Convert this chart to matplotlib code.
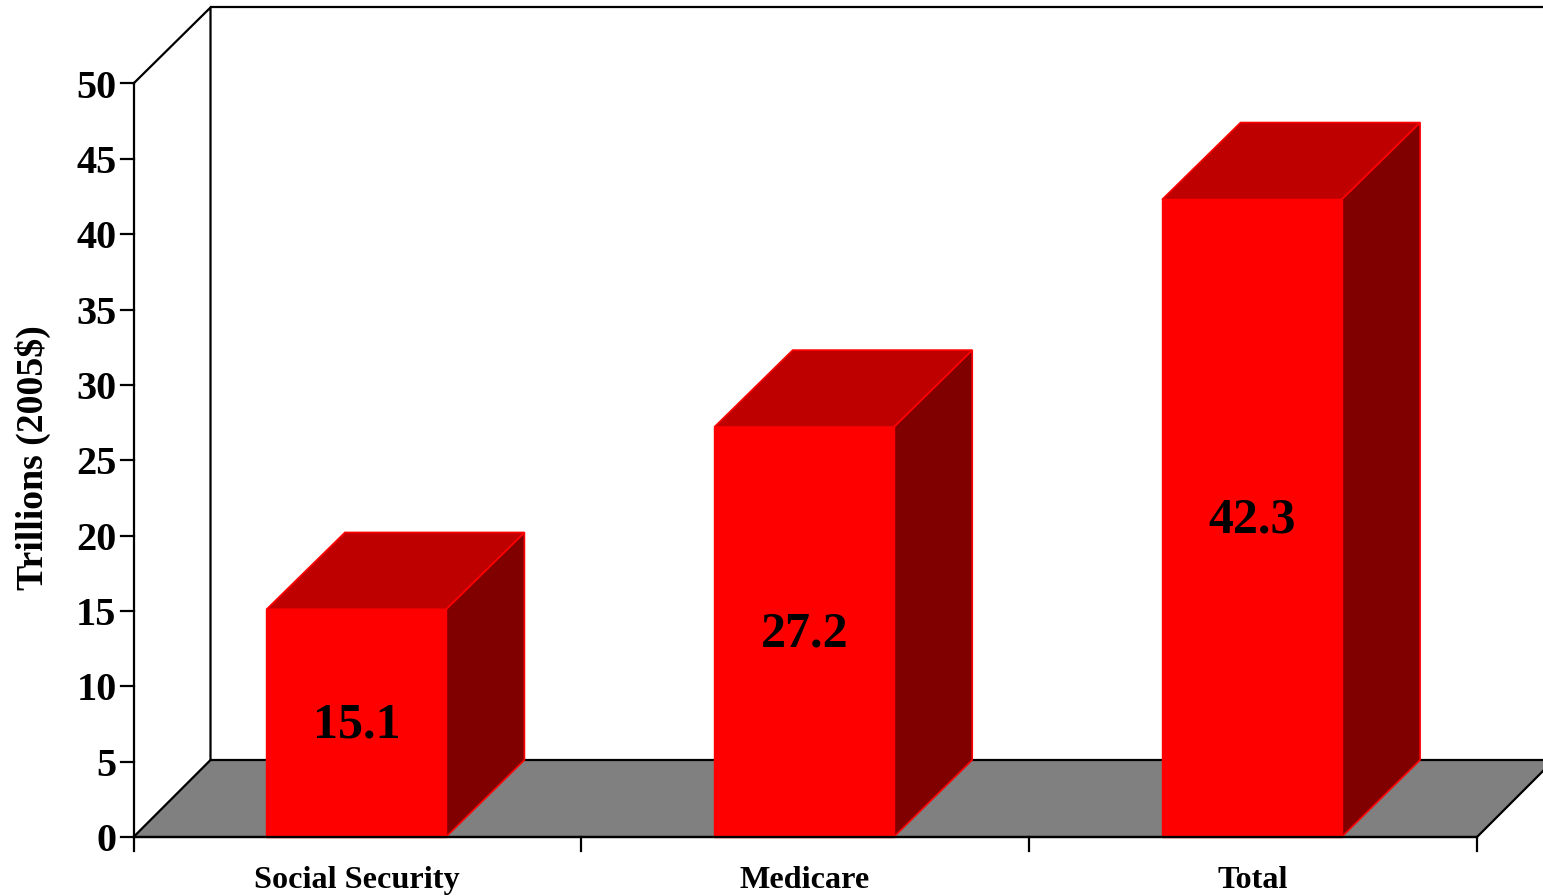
import matplotlib
matplotlib.use("Agg")
import matplotlib.pyplot as plt
from matplotlib.patches import Polygon

categories = ["Social Security", "Medicare", "Total"]
values = [15.1, 27.2, 42.3]
value_labels = ["15.1", "27.2", "42.3"]
y_ticks = [0, 5, 10, 15, 20, 25, 30, 35, 40, 45, 50]

W, H = 1543, 896
fig = plt.figure(figsize=(W / 100, H / 100), dpi=100, facecolor="white")
plt.rcParams["font.family"] = ["Liberation Serif", "DejaVu Serif"]
ax = fig.add_axes([0, 0, 1, 1])
ax.set_xlim(0, W)
ax.set_ylim(H, 0)
ax.axis("off")

# Front plane of the value axis and the depth offset of the 3D box
x0, x1 = 133.5, 1477.0
y_zero, y_top = 837.0, 83.5
dx, dy = 77.0, 77.0
unit = (y_zero - y_top) / 50.0
slot = (x1 - x0) / len(categories)
bar_left, bar_right = 91.0, 88.5
bar_dx, bar_dy = 78.5, 77.0
line_w = 1.6


def to_y(v):
    return y_zero - v * unit


# Floor
ax.add_patch(Polygon([(x0, y_zero), (x0 + dx, y_zero - dy), (x1 + dx, y_zero - dy), (x1, y_zero)],
                     closed=True, fc="#808080", ec="black", lw=line_w, zorder=1))

# Walls
ax.plot([x0, x0 + dx, x0 + dx], [y_top, y_top - dy + 1, y_zero - dy], color="black", lw=line_w, zorder=1)
ax.plot([x0 + dx, W], [y_top - dy + 1, y_top - dy + 1], color="black", lw=line_w, zorder=1)
ax.plot([x0, x0], [y_top, y_zero], color="black", lw=line_w, zorder=1)
ax.plot([x0, x1], [y_zero, y_zero], color="black", lw=line_w, zorder=5)

# Value axis ticks and labels
for t in y_ticks:
    y = to_y(t)
    ax.plot([x0 - 13, x0], [y, y], color="black", lw=line_w, zorder=1)
    ax.text(x0 - 17, y, str(t), ha="right", va="center_baseline",
            fontsize=29, fontweight="bold", color="black")

# Category ticks and labels
for i in range(len(categories) + 1):
    x = x0 + i * slot
    ax.plot([x, x], [y_zero, y_zero + 14], color="black", lw=line_w, zorder=1)
for i, name in enumerate(categories):
    ax.text(x0 + (i + 0.5) * slot - 0.5, 877, name, ha="center", va="center_baseline",
            fontsize=23.2, fontweight="bold", color="black")

ax.text(33, 457.5, "Trillions (2005$)", rotation=90, ha="center", va="center",
        fontsize=27.2, fontweight="bold", color="black")

# Bars with a front, top and side face
for i, (v, lab) in enumerate(zip(values, value_labels)):
    cx = x0 + (i + 0.5) * slot
    l, r = cx - bar_left, cx + bar_right
    t = to_y(v)
    ax.add_patch(Polygon([(r, y_zero), (r + bar_dx, y_zero - bar_dy), (r + bar_dx, t - bar_dy), (r, t)],
                         closed=True, fc="#800000", ec="#ff0000", lw=1.2, zorder=3))
    ax.add_patch(Polygon([(l, t), (l + bar_dx, t - bar_dy), (r + bar_dx, t - bar_dy), (r, t)],
                         closed=True, fc="#bf0000", ec="#ff0000", lw=1.2, zorder=3))
    ax.add_patch(Polygon([(l, y_zero), (l, t), (r, t), (r, y_zero)],
                         closed=True, fc="#ff0000", ec="#ff0000", lw=1.0, zorder=4))
    ax.text(cx - 1, (t + y_zero) / 2 - 3, lab, ha="center", va="center_baseline",
            fontsize=36, fontweight="bold", color="black", zorder=6)

fig.savefig("out.png", dpi=100, facecolor="white")
